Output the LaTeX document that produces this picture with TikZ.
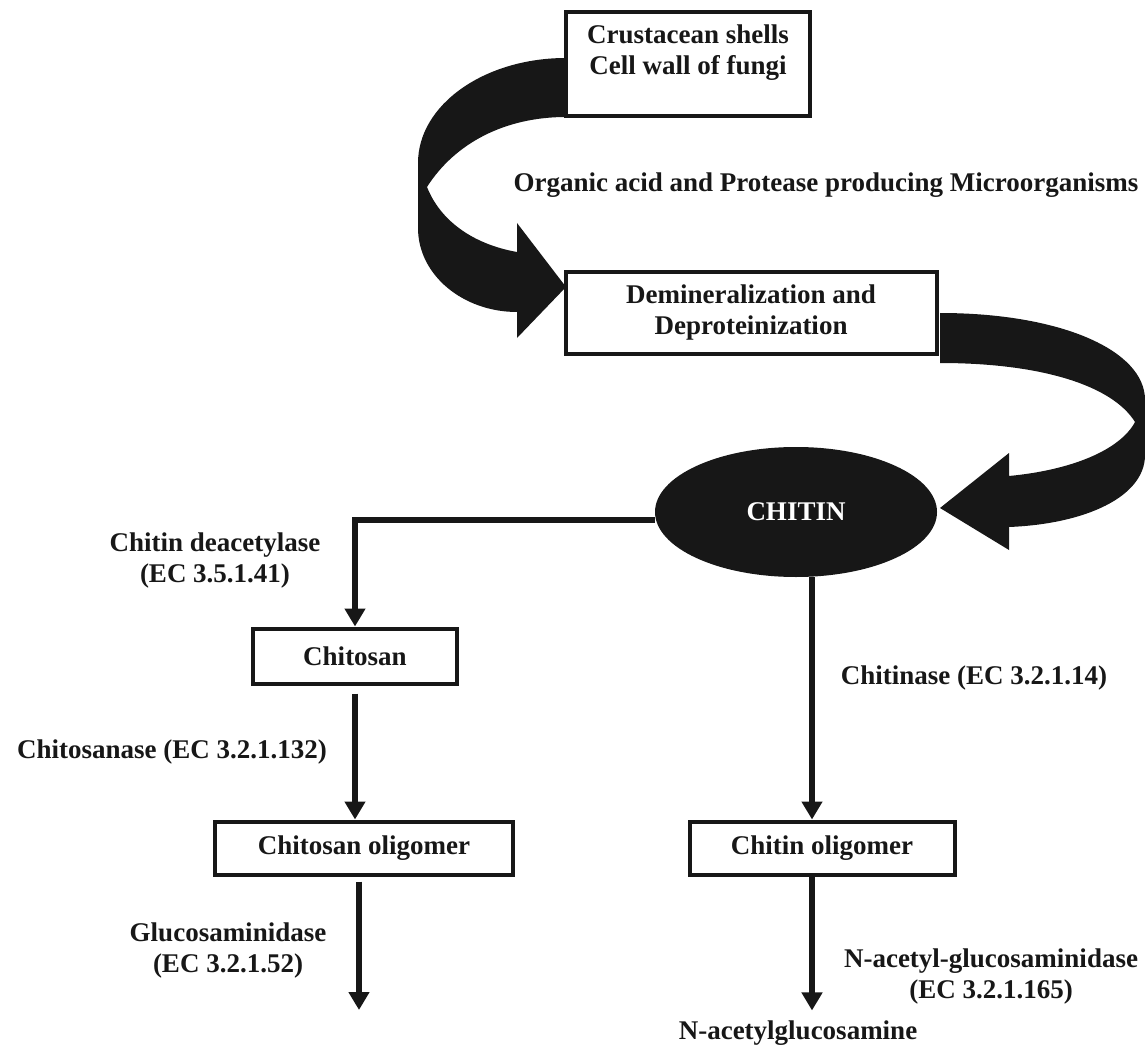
\documentclass[tikz,border=0pt]{standalone}
\usepackage{fontspec}
\setmainfont{Liberation Serif}
\usetikzlibrary{shapes.geometric, arrows.meta}

\definecolor{ink}{gray}{0.09}

\tikzset{
  lbl/.style={text=ink, align=center, inner sep=2pt, font=\bfseries\fontsize{27}{31}\selectfont},
  box/.style={lbl, draw=ink, line width=4pt, fill=white, inner sep=0pt},
  blob/.style={lbl, ellipse, fill=ink, text=white, inner sep=0pt},
  flow/.style={draw=ink, line width=5.5pt, -{Triangle[width=20pt,length=18pt]}},
  bigarrow/.style={fill=ink},
}

\begin{document}
\begin{tikzpicture}[x=1pt, y=-1pt]
  \useasboundingbox (0,0) rectangle (1145,1048);

  % thick curved block arrows
  \fill[bigarrow] (566,58) .. controls (484,58) and (418,105) .. (418,163)
    -- (418,228) .. controls (418,275) and (463,312) .. (517,312)
    -- (517,338) -- (566,287) -- (517,223) -- (517,252)
    .. controls (472,244) and (440,220) .. (427,187)
    .. controls (455,143) and (505,117) .. (566,117) -- cycle;
  \fill[bigarrow] (940,313) .. controls (1060,313) and (1145,350) .. (1145,400)
    -- (1145,455) .. controls (1145,497) and (1085,524) .. (1009,527)
    -- (1009,550) -- (940,508) -- (1009,453) -- (1009,476)
    .. controls (1072,470) and (1120,450) .. (1135,422)
    .. controls (1112,385) and (1040,363) .. (940,363) -- cycle;

  \node[box, minimum width=244pt, minimum height=104pt] (shells) at (688,64) {};
    \node[lbl] (shellstext) at (688,53) {Crustacean shells\\Cell wall of fungi};
  \node[lbl] (organic) at (826,185) {Organic acid and Protease producing Microorganisms};
  \node[box, minimum width=371pt, minimum height=82pt] (demin) at (751,313)
    {Demineralization and\\Deproteinization};
  \node[blob, minimum width=282pt, minimum height=130pt] (chitin) at (796,512) {CHITIN};

  \node[box, minimum width=204pt, minimum height=55pt] (chitosan) at (355,656) {Chitosan};
  \node[box, minimum width=298pt, minimum height=53pt] (chitosanolig) at (364,848) {Chitosan oligomer};
  \node[box, minimum width=265pt, minimum height=53pt] (chitinolig) at (822,848) {Chitin oligomer};
  \node[lbl] (glcnac) at (798,1033) {N-acetylglucosamine};

  \node[lbl] (deacetylase) at (215,561) {Chitin deacetylase\\(EC 3.5.1.41)};
  \node[lbl] (chitosanase) at (172,752) {Chitosanase (EC 3.2.1.132)};
  \node[lbl] (glucosaminidase) at (228,950) {Glucosaminidase\\(EC 3.2.1.52)};
  \node[lbl] (chitinase) at (974,678) {Chitinase (EC 3.2.1.14)};
  \node[lbl] (nacetylase) at (991,976) {N-acetyl-glucosaminidase\\(EC 3.2.1.165)};

  \coordinate (glcend) at (359,1010);
  \coordinate (chitinaxis) at ([xshift=-10pt]chitinolig.north);

  \draw[flow] ([yshift=-8pt]chitin.west) -| (chitosan.north);
  \draw[flow, shorten <=8pt] (chitosan.south) -- (chitosan.south |- chitosanolig.north);
  \draw[flow, shorten <=5pt] (chitosanolig.south -| glcend) -- (glcend);
  \draw[flow] (chitin.south -| chitinaxis) -- (chitinaxis);
  \draw[flow, shorten >=8pt] (chitinolig.south -| chitinaxis) -- (glcnac.north -| chitinaxis);
\end{tikzpicture}
\end{document}
